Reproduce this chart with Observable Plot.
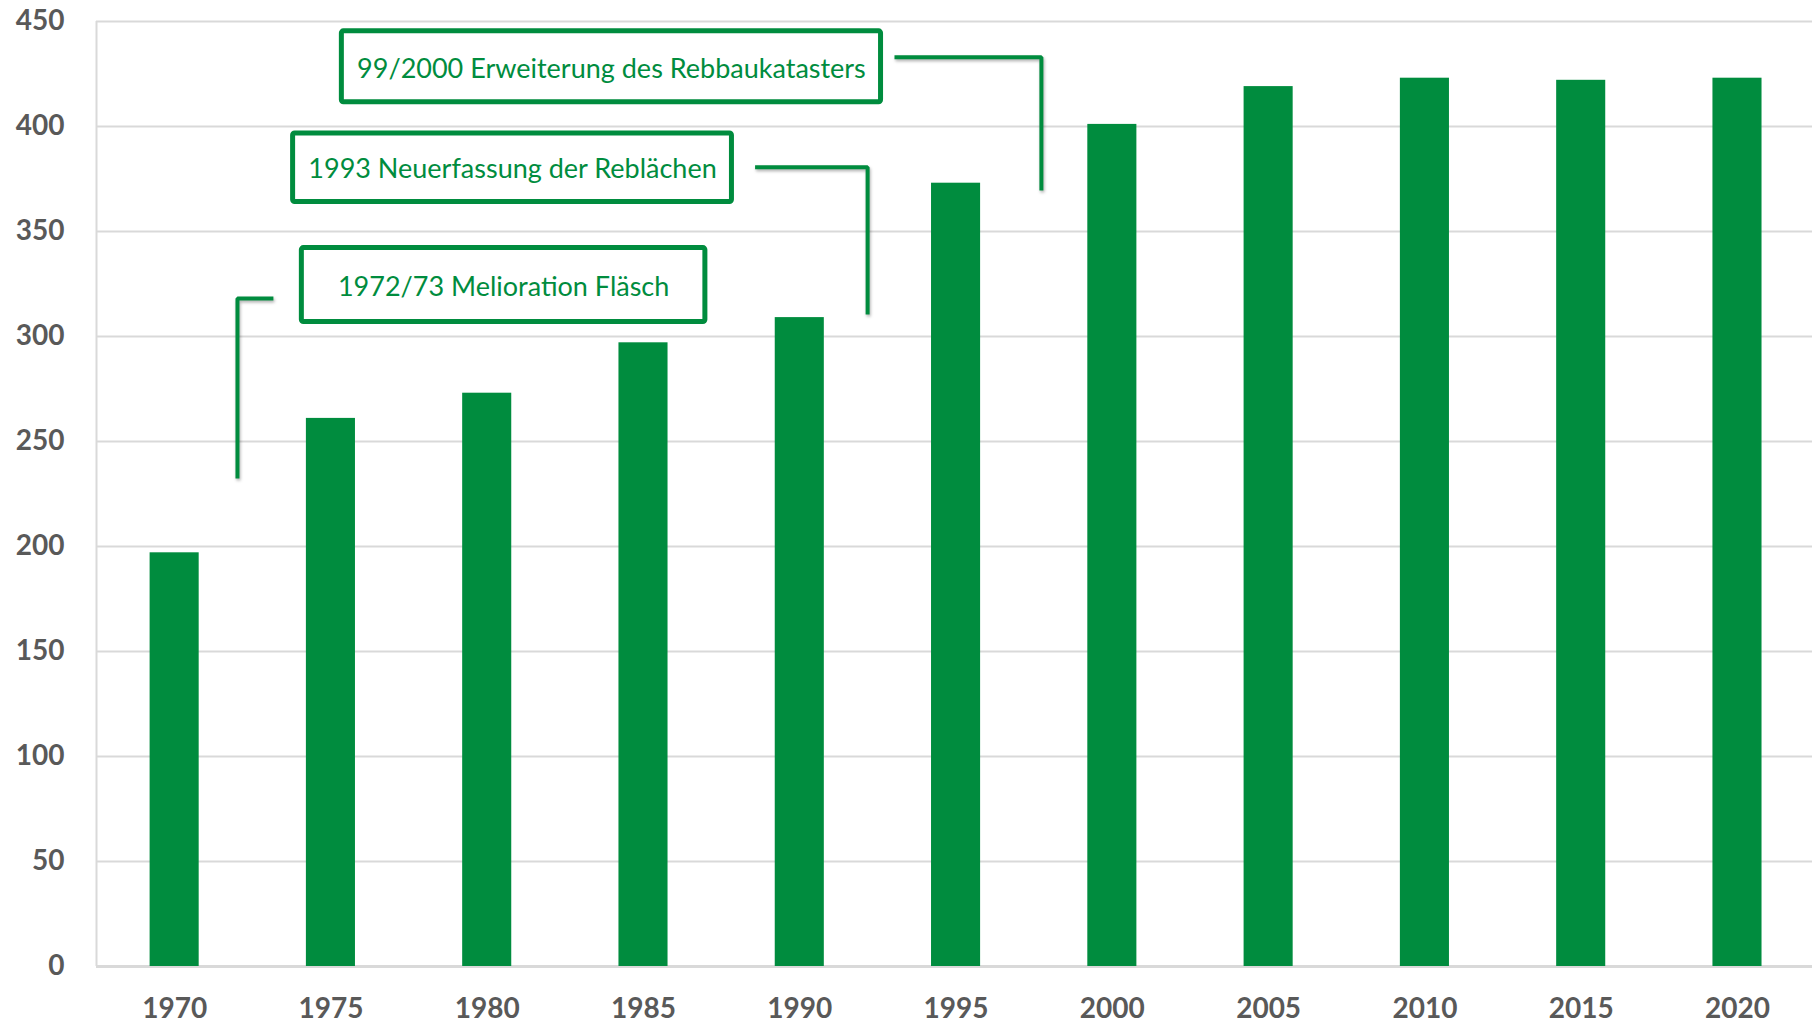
<!DOCTYPE html>
<html>
<head>
<meta charset="utf-8">
<script src="https://cdn.jsdelivr.net/npm/d3@7"></script>
<script src="https://cdn.jsdelivr.net/npm/@observablehq/plot@0.6"></script>
<style>
  html, body { margin: 0; padding: 0; background: #fff; }
  #chart svg { display: block; }
</style>
</head>
<body>
<div id="chart"></div>
<script>
// ---- data ----
const years = [1970, 1975, 1980, 1985, 1990, 1995, 2000, 2005, 2010, 2015, 2020];
const values = [197, 261, 273, 297, 309, 373, 401, 419, 423, 422, 423];
const yTicks = [0, 50, 100, 150, 200, 250, 300, 350, 400, 450];

// annotations (data units: year, value)
const noteTexts = ["1972/73 Melioration Fläsch", "1993 Neuerfassung der Reblächen", "99/2000 Erweiterung des Rebbaukatasters"];
const noteX1 = [1974.07, 1973.79, 1975.35];
const noteX2 = [1986.98, 1987.83, 1992.60];
const noteY1 = [306.9, 364.0, 411.5];
const noteY2 = [342.1, 396.7, 445.3];
// connectors: elbow lines (start at box side, corner, end)
const connX = [[1973.16, 1972.01, 1972.01], [1988.57, 1992.17, 1992.17], [1993.03, 1997.73, 1997.73]];
const connY = [[318.1, 318.1, 232.4], [380.6, 380.6, 310.5], [433.0, 433.0, 369.5]];

const green = "#008C3E";
const bars = years.map((y, i) => ({year: y, value: values[i]}));
const notes = noteTexts.map((t, i) => ({text: t, x1: noteX1[i], x2: noteX2[i], y1: noteY1[i], y2: noteY2[i]}));
const conns = connX.flatMap((xs, k) => xs.map((x, j) => ({id: k, x, y: connY[k][j]})));
const half = 0.785; // half bar width in years

const chart = Plot.plot({
  width: 1812,
  height: 1024,
  marginLeft: 96,
  marginRight: 0,
  marginTop: 21,
  marginBottom: 58,
  style: {fontFamily: "Lato, 'Open Sans', sans-serif", background: "#fff"},
  x: {domain: [1967.5, 2022.4], axis: null},
  y: {domain: [0, 450], axis: null},
  marks: [
    Plot.gridY(yTicks, {stroke: "#d9d9d9", strokeOpacity: 1, strokeWidth: 2}),
    Plot.ruleX([1967.5], {y1: 0, y2: 450, stroke: "#d9d9d9", strokeWidth: 2}),
    Plot.ruleY([0], {stroke: "#d9d9d9", strokeWidth: 3}),
    Plot.rectY(bars, {x1: d => d.year - half, x2: d => d.year + half, y: "value", fill: green}),
    Plot.axisY({ticks: yTicks, tickSize: 0, tickPadding: 32, fontSize: 28, fontWeight: "bold", fill: "#595959", tickFormat: d => String(d)}),
    Plot.axisX({ticks: years, tickSize: 0, tickPadding: 32, fontSize: 28, fontWeight: "bold", fill: "#595959", tickFormat: d => String(d)}),
    Plot.line(conns, {x: "x", y: "y", z: "id", stroke: green, strokeWidth: 4, strokeLinejoin: "miter", strokeLinecap: "butt"}),
    Plot.rect(notes, {x1: "x1", x2: "x2", y1: "y1", y2: "y2", fill: "#fff", stroke: green, strokeWidth: 5, rx: 2}),
    Plot.text(notes, {x: d => (d.x1 + d.x2) / 2, y: d => (d.y1 + d.y2) / 2, dy: 2, text: "text", fill: green, fontSize: 27, fontFamily: "Lato, 'Open Sans', sans-serif"})
  ]
});
document.getElementById("chart").appendChild(chart);
d3.select(chart).selectAll('g[aria-label="line"]').style("filter", "drop-shadow(1px 2px 1.5px rgba(0,0,0,0.3))");
</script>
</body>
</html>
